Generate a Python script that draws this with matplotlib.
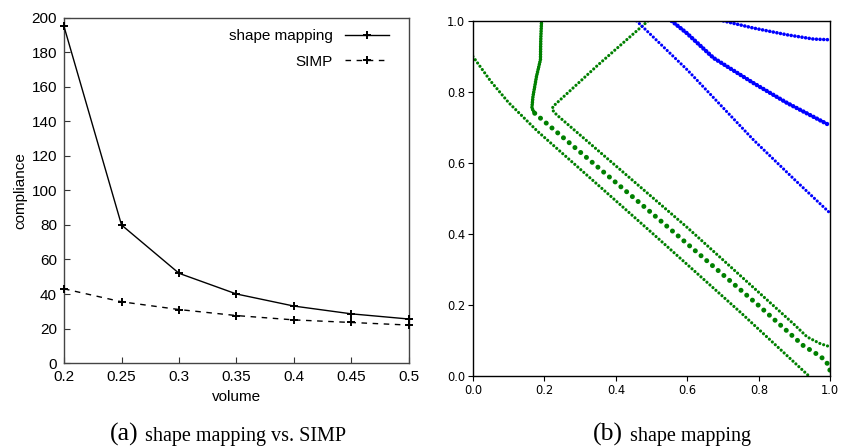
import numpy as np
import matplotlib.pyplot as plt

# panel (a): compliance vs volume
volume = [0.2, 0.25, 0.3, 0.35, 0.4, 0.45, 0.5]
shape_mapping = [195, 80, 52, 40, 33, 28.5, 25.5]
simp = [43, 35.5, 31, 27.5, 25, 23.5, 22]
xticks_a = [0.2, 0.25, 0.3, 0.35, 0.4, 0.45, 0.5]
xticklabels_a = ['0.2', '0.25', '0.3', '0.35', '0.4', '0.45', '0.5']
yticks_a = [0, 20, 40, 60, 80, 100, 120, 140, 160, 180, 200]

# panel (b): curves (x, y vertices)
green_outer_x = [0.0, 0.05, 0.1, 0.18, 0.5, 0.75, 0.94]
green_outer_y = [0.90, 0.83, 0.77, 0.69, 0.404, 0.178, 0.0]
green_left_x = [0.192, 0.190, 0.189, 0.178, 0.168, 0.165, 0.173]
green_left_y = [1.0, 0.95, 0.891, 0.844, 0.787, 0.754, 0.740]
green_mid_x = [0.173, 0.5, 0.8, 0.925, 0.965, 0.985, 0.998, 1.0]
green_mid_y = [0.740, 0.459, 0.198, 0.085, 0.060, 0.045, 0.025, 0.0]
green_inner_x = [0.49, 0.35, 0.224, 0.222, 0.234, 0.6, 0.9, 0.935, 0.972, 1.0]
green_inner_y = [1.0, 0.876, 0.759, 0.750, 0.736, 0.418, 0.144, 0.110, 0.091, 0.082]
blue_a_x = [0.458, 0.6, 0.785, 0.9, 1.0]
blue_a_y = [1.0, 0.862, 0.665, 0.553, 0.458]
blue_b_x = [0.556, 0.598, 0.673, 0.785, 0.879, 1.0]
blue_b_y = [1.0, 0.966, 0.896, 0.825, 0.769, 0.705]
blue_c_x = [0.701, 0.785, 0.879, 0.953, 1.0]
blue_c_y = [1.0, 0.980, 0.961, 0.949, 0.947]
ticks_b = [0.0, 0.2, 0.4, 0.6, 0.8, 1.0]

fig = plt.figure(figsize=(8.49, 4.46), dpi=100)

# ---- left panel (gnuplot look)
ax1 = fig.add_axes([0.0754, 0.186, 0.4063, 0.774])
sans = 'Liberation Sans'
fs = 11
ax1.plot(volume, shape_mapping, color='black', lw=1.0, marker='+', ms=6, mew=1.4,
         label='shape mapping', clip_on=False, zorder=3)
ax1.plot(volume, simp, color='black', lw=1.0, ls=(0, (4, 4)), marker='+', ms=6, mew=1.4,
         label='SIMP', clip_on=False, zorder=3)
ax1.set_xlim(0.2, 0.5)
ax1.set_ylim(0, 200)
ax1.set_xticks(xticks_a)
ax1.set_xticklabels(xticklabels_a, fontfamily=sans, fontsize=fs)
ax1.set_yticks(yticks_a)
ax1.set_yticklabels([str(v) for v in yticks_a], fontfamily=sans, fontsize=fs)
ax1.tick_params(direction='in', length=4, width=0.8, color='#333333', pad=5)
for sp in ax1.spines.values():
    sp.set_color('#444444')
    sp.set_linewidth(1.0)
ax1.set_xlabel('volume', fontfamily=sans, fontsize=fs, labelpad=4)
ax1.set_ylabel('compliance', fontfamily=sans, fontsize=fs, labelpad=3)
leg = ax1.legend(loc='upper right', bbox_to_anchor=(1.0, 1.025), frameon=False,
                 markerfirst=False, prop={'family': sans, 'size': fs}, handlelength=2.9,
                 borderaxespad=0.9, labelspacing=0.75, handletextpad=0.8)

# ---- right panel (matplotlib look)
ax2 = fig.add_axes([0.557, 0.157, 0.421, 0.796])
green = '#008000'
blue = '#0000ff'
dot = dict(solid_capstyle='round', dash_capstyle='round')
ax2.plot(green_outer_x, green_outer_y, color=green, lw=2.3, ls=(0, (0.01, 1.25)), **dot)
ax2.plot(green_left_x, green_left_y, color=green, lw=2.6, ls=(0, (0.01, 0.7)), **dot)
ax2.plot(green_mid_x, green_mid_y, color=green, lw=3.6, ls=(0, (0.01, 1.5)), **dot)
ax2.plot(green_inner_x, green_inner_y, color=green, lw=2.3, ls=(0, (0.01, 1.25)), **dot)
ax2.plot(blue_a_x, blue_a_y, color=blue, lw=2.3, ls=(0, (0.01, 1.2)), **dot)
ax2.plot(blue_b_x, blue_b_y, color=blue, lw=3.2, ls=(0, (0.01, 0.85)), **dot)
ax2.plot(blue_c_x, blue_c_y, color=blue, lw=2.6, ls=(0, (0.01, 1.0)), **dot)
ax2.set_xlim(0, 1)
ax2.set_ylim(0, 1)
ax2.set_xticks(ticks_b)
ax2.set_yticks(ticks_b)
ax2.tick_params(labelsize=8.3, length=3.5, width=0.8, pad=2)
for sp in ax2.spines.values():
    sp.set_linewidth(1.0)

# ---- captions
serif = 'Liberation Serif'
fig.text(110 / 849, 1 - 441 / 446, '(a)', fontfamily=serif, fontsize=18.5, va='baseline')
fig.text(145 / 849, 1 - 441 / 446, 'shape mapping vs. SIMP', fontfamily=serif,
         fontsize=14.5, va='baseline')
fig.text(593 / 849, 1 - 441 / 446, '(b)', fontfamily=serif, fontsize=18.5, va='baseline')
fig.text(630 / 849, 1 - 441 / 446, 'shape mapping', fontfamily=serif,
         fontsize=14.5, va='baseline')

fig.savefig('out.png', dpi=100)
